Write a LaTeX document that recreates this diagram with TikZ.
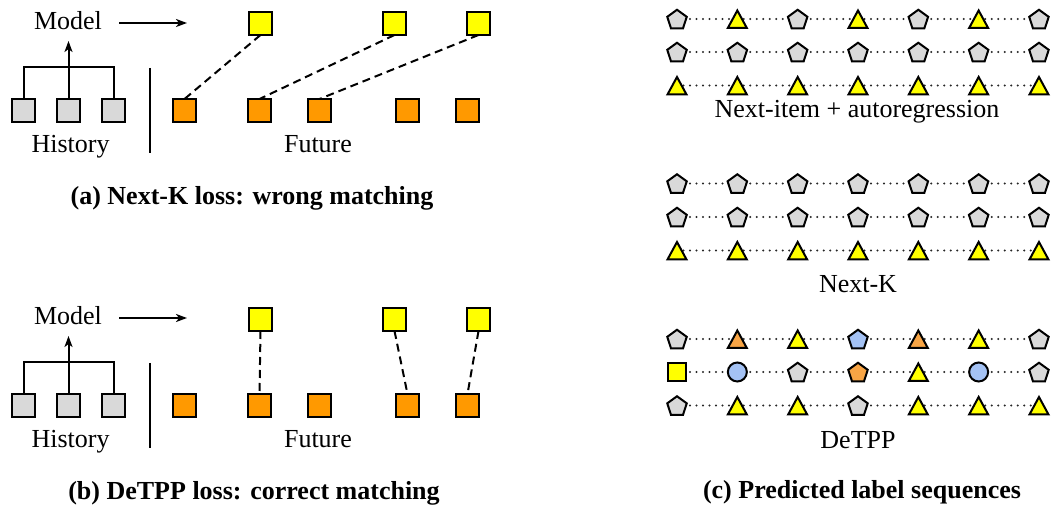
\documentclass[tikz,border=0pt]{standalone}
\usepackage{fontspec}
\setmainfont{Liberation Serif}
\usetikzlibrary{arrows.meta,shapes.geometric}
\definecolor{cgray}{HTML}{D9D9D9}
\definecolor{cyellow}{HTML}{FFFF00}
\definecolor{corange}{HTML}{FF9900}
\definecolor{clorange}{HTML}{F8A545}
\definecolor{cblue}{HTML}{A4C2F4}
\newcommand\seqrow[3]{%
  \foreach \s [count=\i] in {#3} {\coordinate (#1-\i) at ({677+60.33*(\i-1)},#2);}
  \foreach \i [evaluate=\i as \j using int(\i+1)] in {1,...,6} {\draw[dotline] (#1-\i) -- (#1-\j);}
  \foreach \s [count=\i] in {#3} {\node[\s] (#1-\i-s) at (#1-\i) {};}
}
\begin{document}
\begin{tikzpicture}[x=1pt,y=-1pt,
  txt/.style={font=\fontsize{26}{30}\selectfont, inner sep=0pt, anchor=base},
  captxt/.style={txt, font=\fontsize{26}{30}\selectfont\bfseries},
  box/.style={draw, line width=2pt, minimum size=23pt, inner sep=0pt, outer sep=0pt},
  hbox/.style={box, fill=cgray},
  fbox/.style={box, fill=corange},
  pbox/.style={box, fill=cyellow},
  tree/.style={line width=2pt},
  arrtip/.style={-{Stealth[length=11pt,width=8pt,inset=3pt]}},
  arr/.style={line width=1.8pt, arrtip},
  match/.style={line width=2pt, dash pattern=on 8pt off 5pt},
  dotline/.style={line width=2.2pt, line cap=round, dash pattern=on 0pt off 6.5pt, black!85},
  shp/.style={draw, line width=2pt, inner sep=0pt, outer sep=0pt},
  pent/.style={shp, regular polygon, regular polygon sides=5, minimum size=20.5pt, yshift=-1pt},
  tri/.style={shp, isosceles triangle, shape border rotate=90, isosceles triangle stretches, minimum width=19pt, minimum height=17.5pt, anchor=apex, yshift=8.5pt},
  shPG/.style={pent, fill=cgray},
  shPB/.style={pent, fill=cblue},
  shPO/.style={pent, fill=clorange},
  shTY/.style={tri, fill=cyellow},
  shTO/.style={tri, fill=clorange},
  shSY/.style={shp, rectangle, minimum size=18.5pt, fill=cyellow},
  shCB/.style={shp, circle, minimum size=19pt, fill=cblue}
]
\useasboundingbox (0,0) rectangle (1053,510);

% ---------- panel (a) ----------
\node[txt] (a-model) at (68,30) {Model};
\coordinate (a-arrS) at (119,23);
\coordinate (a-arrE) at (187,23);
\draw[arr] (a-arrS) -- (a-arrE);
\node[hbox] (a-h1) at (23.5,110.5) {};
\node[hbox] (a-h2) at (68.5,110.5) {};
\node[hbox] (a-h3) at (113.5,110.5) {};
\draw[tree] (a-h1.north) -- ++(0,-32) -| (a-h3.north);
\coordinate (a-up) at (68.5,41);
\draw[tree, arrtip] (a-h2.north) -- (a-up);
\draw[tree] (150,68) -- (150,153);
\node[fbox] (a-f1) at (184.5,110.5) {};
\node[fbox] (a-f2) at (259.5,110.5) {};
\node[fbox] (a-f3) at (319.5,110.5) {};
\node[fbox] (a-f4) at (407.5,110.5) {};
\node[fbox] (a-f5) at (467.5,110.5) {};
\node[pbox] (a-p1) at (260.5,23.5) {};
\node[pbox] (a-p2) at (394.5,23.5) {};
\node[pbox] (a-p3) at (478.5,23.5) {};
\draw[match] (a-p1.south) -- (a-f1.north);
\draw[match] (a-p2.south) -- (a-f2.north);
\draw[match] (a-p3.south) -- (a-f3.north);
\node[txt] (a-hist) at (70.5,153) {History};
\node[txt] (a-fut) at (318,153) {Future};
\node[captxt] (a-cap) at (252,205) {(a) Next-K loss: wrong matching};

% ---------- panel (b) ----------
\begin{scope}[shift={(0,295)}]
\node[txt] (b-model) at (68,30) {Model};
\coordinate (b-arrS) at (119,23);
\coordinate (b-arrE) at (187,23);
\draw[arr] (b-arrS) -- (b-arrE);
\node[hbox] (b-h1) at (23.5,110.5) {};
\node[hbox] (b-h2) at (68.5,110.5) {};
\node[hbox] (b-h3) at (113.5,110.5) {};
\draw[tree] (b-h1.north) -- ++(0,-32) -| (b-h3.north);
\coordinate (b-up) at (68.5,41);
\draw[tree, arrtip] (b-h2.north) -- (b-up);
\draw[tree] (150,68) -- (150,153);
\node[fbox] (b-f1) at (184.5,110.5) {};
\node[fbox] (b-f2) at (259.5,110.5) {};
\node[fbox] (b-f3) at (319.5,110.5) {};
\node[fbox] (b-f4) at (407.5,110.5) {};
\node[fbox] (b-f5) at (467.5,110.5) {};
\node[pbox] (b-p1) at (260.5,24.5) {};
\node[pbox] (b-p2) at (394.5,24.5) {};
\node[pbox] (b-p3) at (478.5,24.5) {};
\draw[match] (b-p1.south) -- (b-f2.north);
\draw[match] (b-p2.south) -- (b-f4.north);
\draw[match] (b-p3.south) -- (b-f5.north);
\node[txt] (b-hist) at (70.5,153) {History};
\node[txt] (b-fut) at (318,153) {Future};
\node[captxt] (b-cap) at (254,205) {(b) DeTPP loss: correct matching};
\end{scope}

% ---------- panel (c) ----------
\seqrow{c1r1}{19}{shPG,shTY,shPG,shTY,shPG,shTY,shPG}
\seqrow{c1r2}{52}{shPG,shPG,shPG,shPG,shPG,shPG,shPG}
\seqrow{c1r3}{85.5}{shTY,shTY,shTY,shTY,shTY,shTY,shTY}
\node[txt] (c-l1) at (857,118) {Next-item + autoregression};

\seqrow{c2r1}{183.5}{shPG,shPG,shPG,shPG,shPG,shPG,shPG}
\seqrow{c2r2}{217}{shPG,shPG,shPG,shPG,shPG,shPG,shPG}
\seqrow{c2r3}{250.5}{shTY,shTY,shTY,shTY,shTY,shTY,shTY}
\node[txt] (c-l2) at (858,293) {Next-K};

\seqrow{c3r1}{339}{shPG,shTO,shTY,shPB,shTO,shTY,shPG}
\seqrow{c3r2}{372}{shSY,shCB,shPG,shPO,shTY,shCB,shPG}
\seqrow{c3r3}{405.5}{shPG,shTY,shTY,shPG,shTY,shTY,shTY}
\node[txt] (c-l3) at (858,449) {DeTPP};
\node[captxt] (c-cap) at (862,499) {(c) Predicted label sequences};
\end{tikzpicture}
\end{document}
